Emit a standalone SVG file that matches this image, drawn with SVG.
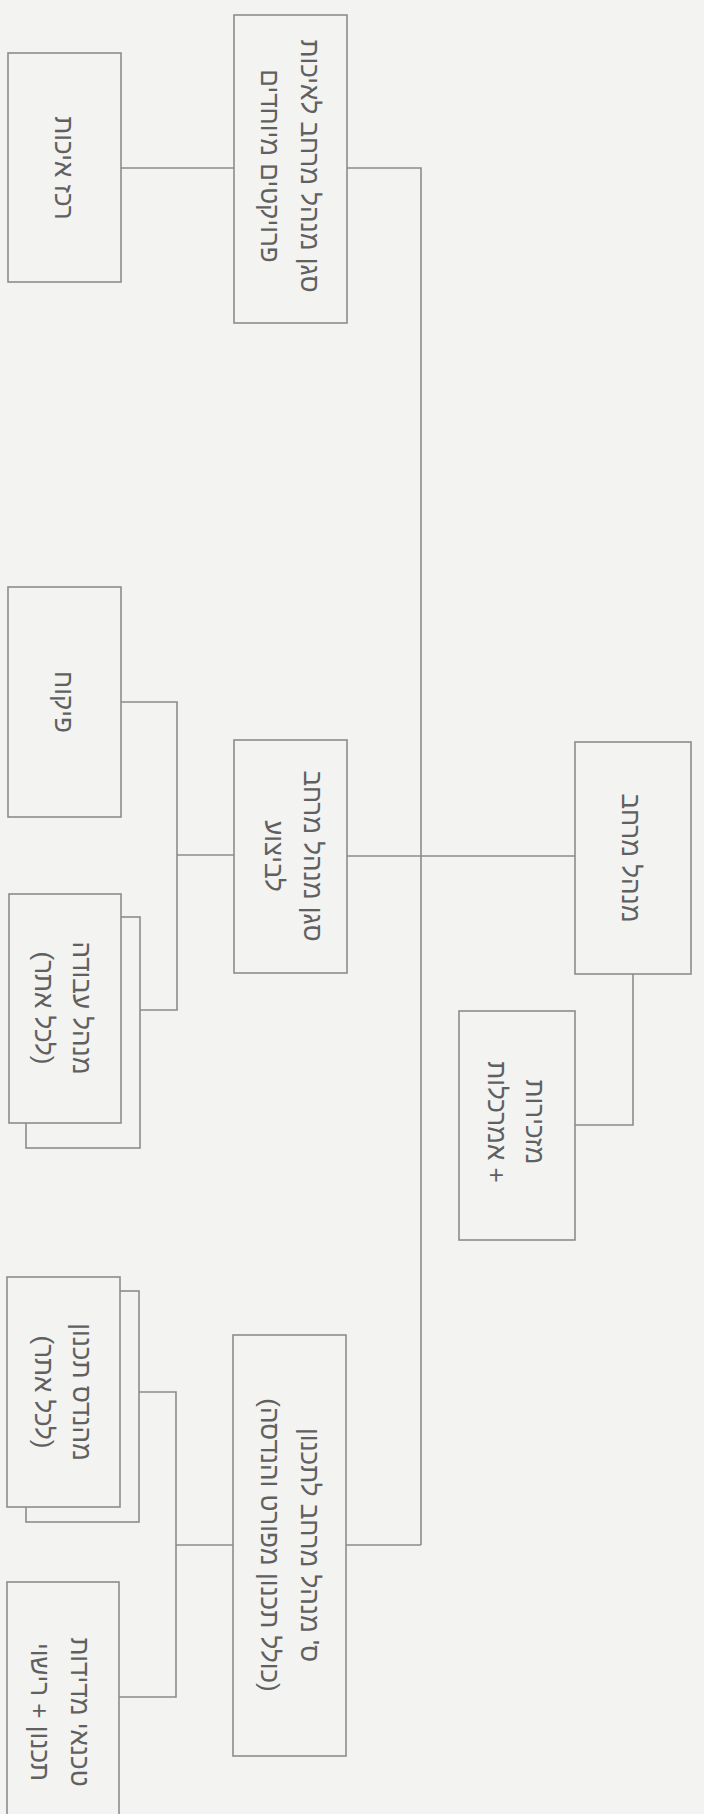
<svg xmlns="http://www.w3.org/2000/svg" width="704" height="1814" viewBox="0 0 704 1814">
<style>
.bg{fill:#f3f3f2}
.box{fill:#f3f3f2;stroke:#8c8c8c;stroke-width:1.6}
.ln{fill:none;stroke:#8c8c8c;stroke-width:1.6}
.t{font-family:"Liberation Sans","DejaVu Sans",sans-serif;font-size:26px;fill:#606060;text-anchor:middle;dominant-baseline:central;direction:rtl;unicode-bidi:embed}
</style>
<rect class="bg" x="0" y="0" width="704" height="1814"/>
<g id="connectors">
<path class="ln" d="M121,168 H234"/>
<path class="ln" d="M347,168 H421 V1545"/>
<path class="ln" d="M121,702 H177 V1010 H121"/>
<path class="ln" d="M177,855 H234"/>
<path class="ln" d="M347,856 H575"/>
<path class="ln" d="M633,974 V1125 H575"/>
<path class="ln" d="M120,1392 H176 V1697 H119"/>
<path class="ln" d="M176,1545 H233"/>
<path class="ln" d="M346,1545 H421"/>
</g>
<g id="node-A">
<rect class="box" x="8" y="53" width="113" height="229"/>
<text class="t" transform="rotate(90 64 168)" x="64" y="168">רכז איכות</text>
</g>
<g id="node-B">
<rect class="box" x="234" y="15" width="113" height="308"/>
<text class="t" transform="rotate(90 290 166)" x="290" y="166"><tspan x="290" y="146">סגן מנהל מרחב לאיכות</tspan><tspan x="290" y="186">פרויקטים מיוחדים</tspan></text>
</g>
<g id="node-C">
<rect class="box" x="8" y="587" width="113" height="230"/>
<text class="t" transform="rotate(90 64 702)" x="64" y="702">פיקוח</text>
</g>
<g id="node-D">
<rect class="box" x="234" y="740" width="113" height="233"/>
<text class="t" transform="rotate(90 294 856)" x="294" y="856"><tspan x="294" y="837">סגן מנהל מרחב</tspan><tspan x="294" y="876">לביצוע</tspan></text>
</g>
<g id="node-E">
<rect class="box" x="575" y="742" width="116" height="232"/>
<text class="t" transform="rotate(90 631 858)" x="631" y="858">מנהל מרחב</text>
</g>
<g id="node-F">
<rect class="box" x="26" y="917" width="114" height="231"/>
<rect class="box" x="9" y="894" width="112" height="229"/>
<text class="t" transform="rotate(90 63 1008)" x="63" y="1008"><tspan x="63" y="989">מנהל עבודה</tspan><tspan x="63" y="1027">(לכל אתר)</tspan></text>
</g>
<g id="node-G">
<rect class="box" x="459" y="1011" width="116" height="229"/>
<text class="t" transform="rotate(90 516 1122)" x="516" y="1122"><tspan x="516" y="1103">מזכירות</tspan><tspan x="516" y="1141">‏+ אמרכלות</tspan></text>
</g>
<g id="node-H">
<rect class="box" x="26" y="1291" width="113" height="231"/>
<rect class="box" x="7" y="1277" width="113" height="230"/>
<text class="t" transform="rotate(90 63 1392)" x="63" y="1392"><tspan x="63" y="1373">מהנדס תכנון</tspan><tspan x="63" y="1411">(לכל אתר)</tspan></text>
</g>
<g id="node-I">
<rect class="box" x="233" y="1335" width="113" height="421"/>
<text class="t" transform="rotate(90 290 1545)" x="290" y="1545"><tspan x="290" y="1525">ס' מנהל מרחב לתכנון</tspan><tspan x="290" y="1565">(כולל תכנון מפורט והנדסה)</tspan></text>
</g>
<g id="node-J">
<rect class="box" x="7" y="1582" width="112" height="260"/>
<text class="t" transform="rotate(90 60 1712)" x="60" y="1712"><tspan x="60" y="1692">טכנאי מדידות</tspan><tspan x="60" y="1732">תכנון + רישוי</tspan></text>
</g>
</svg>
